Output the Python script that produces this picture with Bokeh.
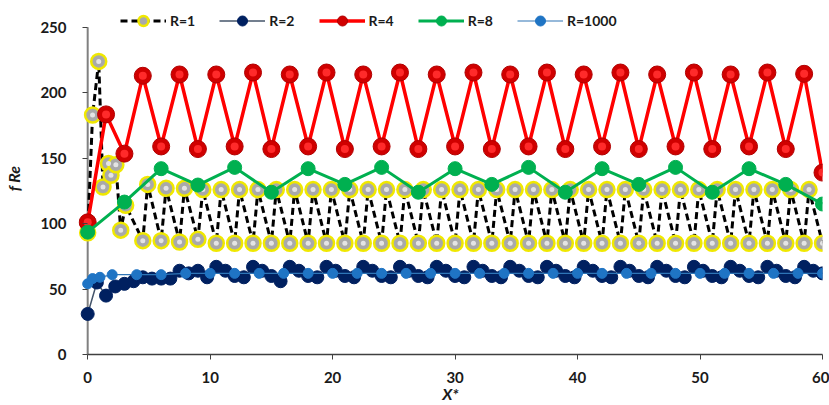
from bokeh.plotting import figure
from bokeh.models import Range1d, Legend, LegendItem, FixedTicker
from bokeh.embed import file_html
from bokeh.resources import INLINE

# ---------------- data ----------------
R1_x = [0, 0.4, 0.9, 1.25, 1.7, 1.9, 2.3, 2.7, 3.1,
        4.5, 4.9, 6.0, 6.4, 7.5, 7.9, 9.0, 9.4, 10.5, 10.9, 12.0, 12.4,
        13.5, 13.9, 15.0, 15.4, 16.5, 16.9, 18.0, 18.4, 19.5, 19.9, 21.0, 21.4,
        22.5, 22.9, 24.0, 24.4, 25.5, 25.9, 27.0, 27.4, 28.5, 28.9, 30.0, 30.4,
        31.5, 31.9, 33.0, 33.4, 34.5, 34.9, 36.0, 36.4, 37.5, 37.9, 39.0, 39.4,
        40.5, 40.9, 42.0, 42.4, 43.5, 43.9, 45.0, 45.4, 46.5, 46.9, 48.0, 48.4,
        49.5, 49.9, 51.0, 51.4, 52.5, 52.9, 54.0, 54.4, 55.5, 55.9, 57.0, 57.4,
        58.5, 58.9, 60.0]
R1_y = [93, 183, 224, 128, 146, 137, 145, 95, 114,
        87, 130, 87, 127, 86, 127, 88, 126, 85, 126, 85, 126,
        85, 126, 85, 126, 85, 126, 85, 126, 85, 126, 85, 126,
        85, 126, 85, 126, 85, 126, 85, 126, 85, 126, 85, 126,
        85, 126, 85, 126, 85, 126, 85, 126, 85, 126, 85, 126,
        85, 126, 85, 126, 85, 126, 85, 126, 85, 126, 85, 126,
        85, 126, 85, 126, 85, 126, 85, 126, 85, 126, 85, 126,
        85, 126, 85]

R2_x = [0, 0.75, 1.5, 2.25, 3, 3.75, 4.5, 5.25, 6, 6.75, 7.5, 8.25, 9, 9.75,
        10.5, 11.25, 12, 12.75, 13.5, 14.25, 15, 15.75, 16.5, 17.25, 18, 18.75,
        19.5, 20.25, 21, 21.75, 22.5, 23.25, 24, 24.75, 25.5, 26.25, 27, 27.75,
        28.5, 29.25, 30, 30.75, 31.5, 32.25, 33, 33.75, 34.5, 35.25, 36, 36.75,
        37.5, 38.25, 39, 39.75, 40.5, 41.25, 42, 42.75, 43.5, 44.25, 45, 45.75,
        46.5, 47.25, 48, 48.75, 49.5, 50.25, 51, 51.75, 52.5, 53.25, 54, 54.75,
        55.5, 56.25, 57, 57.75, 58.5, 59.25, 60]
R2_y = [31, 55, 45, 52, 54, 56, 59, 58, 58, 58, 64, 62, 64, 59,
        67, 64, 60, 59, 67, 64, 60, 56, 67, 64, 60, 59,
        67, 64, 60, 59, 67, 64, 60, 59, 67, 64, 60, 59,
        67, 64, 60, 59, 67, 64, 60, 59, 67, 64, 60, 59,
        67, 64, 60, 59, 67, 64, 60, 59, 67, 64, 60, 59,
        67, 64, 60, 59, 67, 64, 60, 59, 67, 64, 60, 59,
        67, 64, 60, 59, 67, 64, 62]

R4_x = [0, 1.5, 3, 4.5, 6, 7.5, 9, 10.5, 12, 13.5, 15, 16.5, 18, 19.5, 21,
        22.5, 24, 25.5, 27, 28.5, 30, 31.5, 33, 34.5, 36, 37.5, 39, 40.5, 42,
        43.5, 45, 46.5, 48, 49.5, 51, 52.5, 54, 55.5, 57, 58.5, 60]
R4_y = [101, 183.5, 153.5, 213, 159, 214, 157, 214, 159, 215.5, 157, 214, 159,
        215.5, 157, 214, 159, 215.5, 157, 214, 159, 215.5, 157, 214, 159, 215.5,
        157, 214, 159, 215.5, 157, 214, 159, 215.5, 157, 214, 159, 215.5, 157,
        214.5, 139]

R8_x = [0, 3, 6, 9, 12, 15, 18, 21, 24, 27, 30, 33, 36, 39, 42, 45, 48, 51,
        54, 57, 60]
R8_y = [93.5, 116.5, 142, 129.5, 143, 124, 142, 130, 143, 124, 142, 130, 143,
        124, 142, 130, 143, 124, 142, 130, 115]

R1000_x = [0, 0.4, 1, 2, 4, 6, 8, 10, 12, 14, 16, 18, 20, 22, 24, 26, 28, 30,
           32, 34, 36, 38, 40, 42, 44, 46, 48, 50, 52, 54, 56, 58, 60]
R1000_y = [54, 58, 59, 61, 61, 61, 62, 62, 62, 62, 62, 62, 62, 62, 62, 62, 62,
           62, 62, 62, 62, 62, 62, 62, 62, 62, 62, 62, 62, 62, 62, 62, 62]

labels = ["R=1", "R=2", "R=4", "R=8", "R=1000"]
x_ticks = [0, 10, 20, 30, 40, 50, 60]
y_ticks = [0, 50, 100, 150, 200, 250]
x_title = "X*"
y_title = "f Re"

FONT = "Lato"

# ---------------- figure ----------------
# the frame reaches a little above 250 so that the legend can sit inside it
p = figure(width=829, height=405, output_backend="svg", toolbar_location=None,
           x_range=Range1d(-0.75, 60), y_range=Range1d(0, 269),
           min_border_left=78, min_border_right=7, min_border_top=2,
           min_border_bottom=51)
p.outline_line_color = None
p.grid.visible = False
p.background_fill_color = "white"
p.border_fill_color = "white"

# y axis line at x = 0, from 0 to 250
p.segment(x0=[x_ticks[0]], y0=[y_ticks[0]], x1=[x_ticks[0]], y1=[y_ticks[-1]],
          line_color="#808080", line_width=2)

# R=1 : dashed black + yellow/grey spheres
r1_line = p.line(R1_x, R1_y, line_color="black", line_width=3, line_dash="7 4")
r1_pts = p.scatter(R1_x, R1_y, marker="circle", size=15, fill_color="#A9A9A9",
                   line_color="#F0E800", line_width=2.5)
p.scatter(R1_x, R1_y, marker="circle", size=5, fill_color="#E4E4E4", line_color=None)

# R=2 : navy
r2_line = p.line(R2_x, R2_y, line_color="#44546A", line_width=1.5)
r2_pts = p.scatter(R2_x, R2_y, marker="circle", size=13, fill_color="#002060",
                   line_color="#002060")

# R=4 : red spheres
r4_line = p.line(R4_x, R4_y, line_color="#FF0000", line_width=3.5)
r4_pts = p.scatter(R4_x, R4_y, marker="circle", size=17, fill_color="#D00000",
                   line_color="#B00000", line_width=1)
p.scatter(R4_x, R4_y, marker="circle", size=8, fill_color="#FF2A2A", line_color=None)

# R=8 : green
r8_line = p.line(R8_x, R8_y, line_color="#00B050", line_width=3)
r8_pts = p.scatter(R8_x, R8_y, marker="circle", size=14, fill_color="#00B050",
                   line_color="#00B050")

# R=1000 : light blue
r1000_line = p.line(R1000_x, R1000_y, line_color="#2E75B6", line_width=1.2)
r1000_pts = p.scatter(R1000_x, R1000_y, marker="circle", size=10,
                      fill_color="#1F74C4", line_color="#1F74C4")

# ---------------- axes ----------------
for ax in (p.xaxis[0], p.yaxis[0]):
    ax.major_label_text_font = FONT
    ax.major_label_text_font_style = "bold"
    ax.major_label_text_font_size = "15px"
    ax.major_label_text_color = "#1a1a1a"
    ax.minor_tick_line_color = None
    ax.axis_label_text_font = FONT
    ax.axis_label_text_font_style = "bold italic"
    ax.axis_label_text_font_size = "16px"
    ax.axis_label_text_color = "#1a1a1a"

p.xaxis.ticker = FixedTicker(ticks=x_ticks)
p.yaxis.ticker = FixedTicker(ticks=y_ticks)

p.xaxis.bounds = (x_ticks[0], x_ticks[-1])
p.xaxis.axis_line_color = "#404040"
p.xaxis.major_tick_line_color = "#404040"
p.xaxis.axis_line_width = 1.5
p.xaxis.major_tick_in = 0
p.xaxis.major_tick_out = 5
p.xaxis.major_label_standoff = 12
p.xaxis.axis_label = x_title
p.xaxis.axis_label_standoff = -2

p.yaxis.axis_line_color = None
p.yaxis.major_tick_line_color = "#404040"
p.yaxis.major_tick_in = 9
p.yaxis.major_tick_out = -4
p.yaxis.major_label_standoff = 12
p.yaxis.axis_label = y_title
p.yaxis.axis_label_standoff = 14

# ---------------- legend ----------------
items = [
    LegendItem(label=labels[0], renderers=[r1_line, r1_pts]),
    LegendItem(label=labels[1], renderers=[r2_line, r2_pts]),
    LegendItem(label=labels[2], renderers=[r4_line, r4_pts]),
    LegendItem(label=labels[3], renderers=[r8_line, r8_pts]),
    LegendItem(label=labels[4], renderers=[r1000_line, r1000_pts]),
]
legend = Legend(items=items, orientation="horizontal", location=(42, 321),
                glyph_width=46, glyph_height=25, label_height=25,
                label_standoff=4, spacing=24, padding=0, margin=0,
                border_line_color=None, background_fill_alpha=0,
                label_text_font=FONT, label_text_font_style="bold",
                label_text_font_size="14px", label_text_color="#1a1a1a")
p.add_layout(legend, "center")

open("out.html", "w").write(file_html(p, INLINE))
